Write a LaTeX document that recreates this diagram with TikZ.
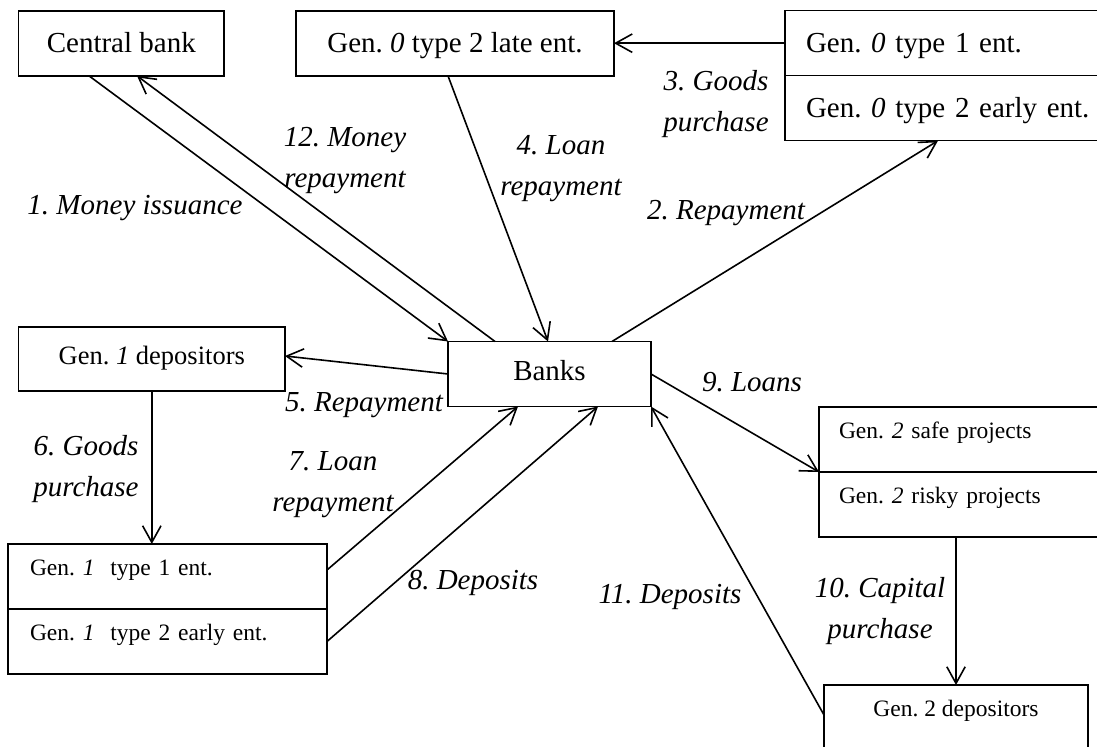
\documentclass[tikz,border=0pt]{standalone}
\usepackage{fontspec}
\setmainfont{Liberation Serif}
\usetikzlibrary{arrows.meta,positioning}
\frenchspacing

\begin{document}
\begin{tikzpicture}[x=0.5pt, y=-0.5pt, line width=0.8pt, >={Straight Barb[length=8.3pt,width=9.2pt]}]
        \tikzstyle{block} = [rectangle, draw, outer sep=0pt, inner ysep=0pt, font=\fontsize{14.5}{17}\selectfont, text height=21pt, text depth=11.5pt]
        \tikzstyle{smallblock} = [block, font=\fontsize{11.75}{14}\selectfont, text height=16pt, text depth=16.5pt]
        \tikzstyle{lefttext} = [align=left, inner xsep=10.5pt]
        \tikzstyle{flowlabel} = [font=\fontsize{14.5}{20.5}\selectfont\itshape, align=center, inner sep=0pt]
        \useasboundingbox (0,0) rectangle (1097,747);
        \clip (0,0) rectangle (1097,747);
        \node[block, minimum width=102.7pt] (cb) at (121.3,43.35) {Central bank};
        \node[block, minimum width=159pt] (late) at (455,43.35) {Gen. \textit{0} type 2 late ent.};
        \node[block, lefttext, text width=165pt, anchor=north west] (g0a) at (785,10.7) {Gen. \textit{0} type 1 ent.};
        \node[block, lefttext, text width=165pt, below=0pt of g0a] (g0b) {Gen. \textit{0} type 2 early ent.};
        \node[block, font=\fontsize{13.25}{16}\selectfont, text height=19pt, text depth=13pt, minimum width=133.2pt] (dep1) at (151.8,359) {Gen. \textit{1} depositors};
        \node[block, text height=19.5pt, text depth=13pt, minimum width=101.5pt] (banks) at (549.5,374) {Banks};
        \node[smallblock, lefttext, inner xsep=11pt, text width=137.5pt, anchor=north west] (g1a) at (8,544) {Gen. \textit{1}\ \ type 1 ent.};
        \node[smallblock, lefttext, inner xsep=11pt, text width=137.5pt, below=0pt of g1a] (g1b) {Gen. \textit{1}\ \ type 2 early ent.};
        \node[smallblock, lefttext, inner xsep=10pt, text width=128pt, anchor=north west] (g2a) at (819,407) {Gen. \textit{2} safe projects};
        \node[smallblock, lefttext, inner xsep=10pt, text width=128pt, below=0pt of g2a] (g2b) {Gen. \textit{2} risky projects};
        \node[smallblock, minimum width=132pt, anchor=north] (dep2) at (956,685) {Gen. 2 depositors};
        \node[flowlabel, anchor=base] (l1) at (135,215) {1. Money issuance};
        \node[flowlabel] (l12) at (345,161) {12. Money\\repayment};
        \node[flowlabel] (l4) at (561,169) {4. Loan\\repayment};
        \node[flowlabel] (l3) at (716,104) {3. Goods\\purchase};
        \node[flowlabel, anchor=base] (l2) at (726,220) {2. Repayment};
        \node[flowlabel, anchor=base] (l5) at (364,412) {5. Repayment};
        \node[flowlabel] (l6) at (86,469) {6. Goods\\purchase};
        \node[flowlabel] (l7) at (333,485) {7. Loan\\repayment};
        \node[flowlabel, anchor=base] (l8) at (473,590) {8. Deposits};
        \node[flowlabel, anchor=base] (l9) at (752,392) {9. Loans};
        \node[flowlabel] (l10) at (880,611) {10. Capital\\purchase};
        \node[flowlabel, anchor=base] (l11) at (670,604) {11. Deposits};
        \draw[->] ([xshift=-16.15pt]cb.south) -- (banks.north west);
        \draw[->] ([xshift=-27.25pt]banks.north) -- ([xshift=7.85pt]cb.south);
        \draw[->] ([xshift=-3.5pt]late.south) -- ([xshift=-0.75pt]banks.north);
        \draw[->] ([xshift=31.25pt]banks.north) -- ([xshift=76.5pt]g0b.south west);
        \draw[->] (g0a.west) -- (g0a.west -| late.east);
        \draw[->] (banks.west) -- ([yshift=1.5pt]dep1.east);
        \draw[->] (dep1.south) -- (dep1.south |- g1a.north);
        \draw[->] ([yshift=3.25pt]g1a.east) -- ([xshift=-15.75pt]banks.south);
        \draw[->] (g1b.east) -- ([xshift=24.25pt]banks.south);
        \draw[->] (banks.east) -- (g2a.south west);
        \draw[->] (dep2.north |- g2b.south) -- (dep2.north);
        \draw[->] ([yshift=1.25pt]dep2.west) -- (banks.south east);
    \end{tikzpicture}
\end{document}
